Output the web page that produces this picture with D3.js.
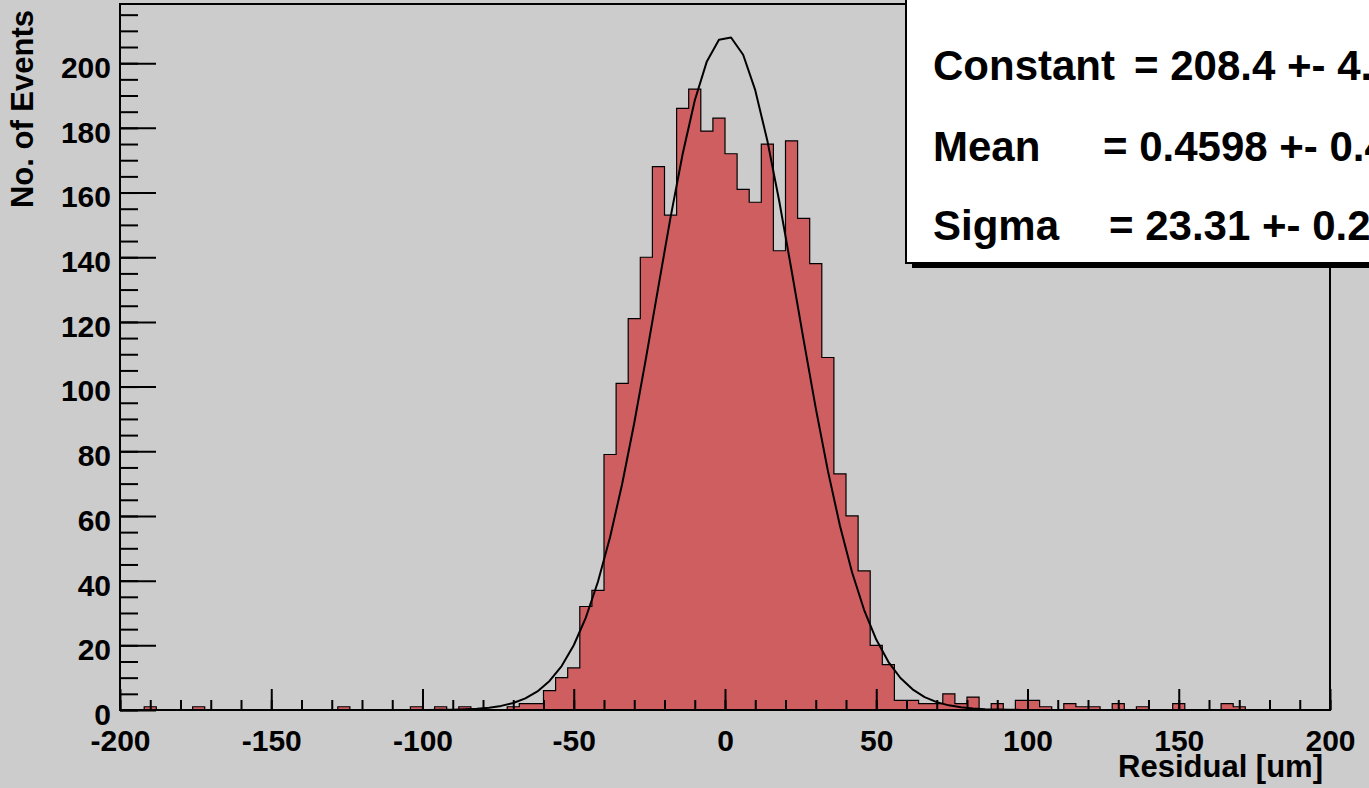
<!DOCTYPE html>
<html>
<head>
<meta charset="utf-8">
<script src="https://cdn.jsdelivr.net/npm/d3@7"></script>
<style>
  html, body { margin: 0; padding: 0; background: #cccccc; overflow: hidden; }
  text { font-family: "Liberation Sans", Arial, sans-serif; font-weight: bold; fill: #000; }
</style>
</head>
<body>
<div class="residual_chart"></div>
<script>
// residual histogram, 100 bins of 4 um from -200 to 200
const binEdges = d3.range(-200, 200, 4);
const binCounts = [
  0, 0, 1, 0, 0, 0, 1, 0, 0, 0,
  0, 0, 0, 0, 0, 0, 0, 0, 1, 0,
  0, 0, 0, 0, 1, 0, 1, 0, 1, 0,
  0, 0, 1, 2, 2, 6, 10, 13, 32, 37,
  79, 101, 121, 140, 168, 153, 186, 192, 179, 183,
  172, 161, 157, 175, 142, 176, 152, 138, 109, 73,
  60, 43, 20, 14, 3, 3, 2, 2, 5, 2,
  4, 0, 2, 0, 3, 3, 1, 0, 2, 1,
  1, 0, 2, 0, 1, 0, 0, 2, 0, 0,
  0, 2, 1, 0, 0, 0, 0, 0, 0, 0
];
const xTickValues = [-200, -150, -100, -50, 0, 50, 100, 150, 200];
const yTickValues = [0, 20, 40, 60, 80, 100, 120, 140, 160, 180, 200];

// gaussian fit (constant, mean, sigma) and the stats box lines
const fitParams = [208.4, 0.4598, 23.31];
const statNames = ['Constant', 'Mean', 'Sigma'];
const statValues = ['= 208.4 +- 4.9', '= 0.4598 +- 0.4871', '= 23.31 +- 0.25'];

const W = 1369, H = 788;
const svg = d3.select('.residual_chart').append('svg')
    .attr('width', W)
    .attr('height', H);

svg.append('rect').attr('width', W).attr('height', H).attr('fill', '#cccccc');

const xScale = d3.scaleLinear().domain([-200, 200]).range([120, 1330]);
const yScale = d3.scaleLinear().domain([0, 218.3]).range([710, 4]);

const bins = binEdges.map((e, i) => ({x0: e, n: binCounts[i]}));
const stepData = bins.concat([{x0: 200, n: 0}]);

// filled bars
svg.append('path')
    .datum(stepData)
    .attr('fill', '#cf5e61')
    .attr('d', d3.area()
        .curve(d3.curveStepAfter)
        .x(d => xScale(d.x0))
        .y0(yScale(0))
        .y1(d => yScale(d.n)));

// histogram outline
svg.append('path')
    .datum([{x0: -200, n: 0}].concat(stepData))
    .attr('fill', 'none')
    .attr('stroke', '#000')
    .attr('stroke-width', 1.2)
    .attr('d', d3.line()
        .curve(d3.curveStepAfter)
        .x(d => xScale(d.x0))
        .y(d => yScale(d.n)));

// fit curve sampled at bin centres
const gaus = x => fitParams[0] * Math.exp(-0.5 * Math.pow((x - fitParams[1]) / fitParams[2], 2));
svg.append('path')
    .datum(binEdges.map(e => e + 2))
    .attr('fill', 'none')
    .attr('stroke', '#000')
    .attr('stroke-width', 2)
    .attr('stroke-linejoin', 'round')
    .attr('d', d3.line().x(d => xScale(d)).y(d => yScale(gaus(d))));

// axes: minor ticks then major ticks with labels
const xMinor = svg.append('g')
    .attr('transform', 'translate(0,710)')
    .call(d3.axisBottom(xScale).tickValues(d3.range(-200, 201, 10)).tickSize(-10).tickSizeOuter(0).tickFormat(''));
const xMajor = svg.append('g')
    .attr('transform', 'translate(0,710)')
    .call(d3.axisBottom(xScale).tickValues(xTickValues).tickSize(-21).tickSizeOuter(0).tickPadding(20).tickFormat(d3.format('d')));

const yMinor = svg.append('g')
    .attr('transform', 'translate(120,0)')
    .call(d3.axisLeft(yScale).tickValues(d3.range(0, 216, 5)).tickSize(-18).tickSizeOuter(0).tickFormat(''));
const yMajor = svg.append('g')
    .attr('transform', 'translate(120,0)')
    .call(d3.axisLeft(yScale).tickValues(yTickValues).tickSize(-36).tickSizeOuter(0).tickPadding(9));

[xMinor, xMajor, yMinor, yMajor].forEach(g => {
    g.select('.domain').remove();
    g.selectAll('.tick line').attr('stroke', '#000').attr('stroke-width', 2);
});
xMajor.selectAll('.tick text')
    .attr('font-size', 30)
    .text(d => d3.format('d')(d).replace('−', '-'));
yMajor.selectAll('.tick text')
    .attr('font-size', 30)
    .attr('dy', '0.48em');
svg.selectAll('.tick text').attr('font-family', null).attr('fill', '#000');

// frame
svg.append('rect')
    .attr('x', 120).attr('y', 4)
    .attr('width', 1210).attr('height', 706)
    .attr('fill', 'none')
    .attr('stroke', '#000')
    .attr('stroke-width', 2);

// axis titles
svg.append('text')
    .attr('x', 1323).attr('y', 777)
    .attr('text-anchor', 'end')
    .attr('font-size', 31)
    .text('Residual [um]');

svg.append('text')
    .attr('transform', 'translate(33,10) rotate(-90)')
    .attr('text-anchor', 'end')
    .attr('font-size', 31)
    .text('No. of Events');

// stats box with shadow
const box = svg.append('g');
box.append('rect')
    .attr('x', 912).attr('y', -10)
    .attr('width', 520).attr('height', 278)
    .attr('fill', '#000');
box.append('rect')
    .attr('x', 906).attr('y', -14)
    .attr('width', 520).attr('height', 277)
    .attr('fill', '#fff')
    .attr('stroke', '#000')
    .attr('stroke-width', 2);

const valueX = [1134, 1103, 1109];
const lineY = [80, 161, 240];
statNames.forEach((name, i) => {
    const t = box.append('text')
        .attr('y', lineY[i])
        .attr('font-size', 42);
    t.append('tspan').attr('x', 933).text(name);
    t.append('tspan').attr('x', valueX[i]).text(statValues[i]);
});
</script>
</body>
</html>
